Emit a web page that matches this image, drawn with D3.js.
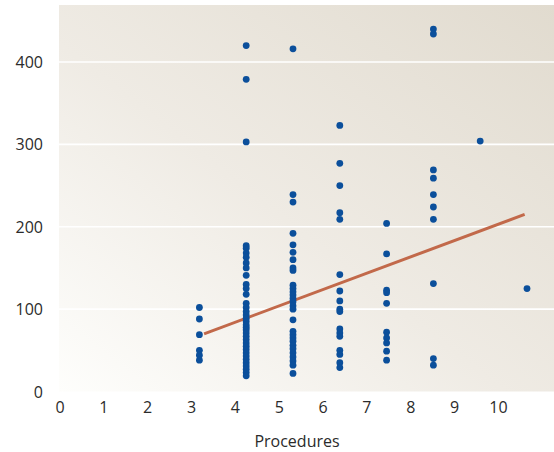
<!DOCTYPE html>
<html><head><meta charset="utf-8">
<script src="https://cdn.jsdelivr.net/npm/d3@7"></script>
<style>
html,body{margin:0;padding:0;background:#fff;}
svg{display:block;}
text{font-family:"Open Sans",sans-serif;fill:#2b2b2b;}
</style></head>
<body>
<script>
// Data: number of procedures vs value
const procedures = [3,4,5,6,7,8,9,10];
const values3 = [102,88,69,50,44,38];
const values4 = [420,379,303,177,174,168,163,156,150,141,130,125,118,107,102,97,93,89,85,81,78,75,71,67,63,59,55,51,47,43,39,35,31,27,23,19];
const values5 = [416,239,230,192,178,169,160,150,147,129,125,121,117,113,109,104,100,87,73,69,65,61,56,52,47,42,37,32,22];
const values6 = [323,277,250,217,209,142,122,110,100,97,76,71,67,50,45,35,29];
const values7 = [204,167,123,120,107,72,65,59,49,38];
const values8 = [440,434,269,259,239,224,209,131,40,32];
const values9 = [304];
const values10 = [125];
const fitX = [3.1, 9.95];
const fitY = [70, 215];
const xTicks = [0,1,2,3,4,5,6,7,8,9,10];
const yTicks = [0,100,200,300,400];
const xTitle = "Procedures";

const allValues = [values3,values4,values5,values6,values7,values8,values9,values10];
const points = [];
procedures.forEach((p,i)=>allValues[i].forEach(v=>points.push({x:p,y:v})));

const W=554,H=452;
const plot={left:59,right:554,top:5,bottom:391.5};
const x = d3.scaleLinear().domain([0,10]).range([59,527]);
const xLab = d3.scaleLinear().domain([0,10]).range([59.5,498]);
const y = d3.scaleLinear().domain([0,400]).range([391.5,62]);

const svg=d3.select("body").append("svg").attr("width",W).attr("height",H);
const defs=svg.append("defs");
const g=defs.append("linearGradient").attr("id","bg").attr("x1","0").attr("y1","1").attr("x2","1").attr("y2","0");
g.append("stop").attr("offset","0").attr("stop-color","#fefefc");
g.append("stop").attr("offset","0.45").attr("stop-color","#efebe4");
g.append("stop").attr("offset","1").attr("stop-color","#e1dbcf");

svg.append("rect").attr("x",plot.left).attr("y",plot.top)
  .attr("width",plot.right-plot.left).attr("height",plot.bottom-plot.top)
  .attr("fill","url(#bg)");

// gridlines
svg.append("g").selectAll("line").data(yTicks.filter(d=>d>0)).join("line")
  .attr("x1",plot.left).attr("x2",plot.right)
  .attr("y1",d=>y(d)).attr("y2",d=>y(d))
  .attr("stroke","#ffffff").attr("stroke-width",1.6);

// y axis labels
const yAxis=d3.axisLeft(y).tickValues(yTicks).tickSize(0).tickPadding(0);
const ya=svg.append("g").attr("transform","translate(43,0)").call(yAxis);
ya.select(".domain").remove();
ya.selectAll("text").attr("font-size","16px").attr("font-family","'Open Sans',sans-serif").attr("fill","#2b2b2b").attr("dy","0.35em");

// x axis labels
const xAxis=d3.axisBottom(xLab).tickValues(xTicks).tickSize(0).tickPadding(0);
const xa=svg.append("g").attr("transform","translate(0,401.5)").call(xAxis);
xa.select(".domain").remove();
xa.selectAll("text").attr("font-size","16px").attr("font-family","'Open Sans',sans-serif").attr("fill","#2b2b2b").attr("dy","0.71em");

svg.append("text").attr("x",297).attr("y",447).attr("text-anchor","middle")
  .attr("font-size","16px").text(xTitle);

// fit line
svg.append("line")
  .attr("x1",x(fitX[0])).attr("y1",y(fitY[0]))
  .attr("x2",x(fitX[1])).attr("y2",y(fitY[1]))
  .attr("stroke","#c2694a").attr("stroke-width",3);

// points
svg.append("g").selectAll("circle").data(points).join("circle")
  .attr("cx",d=>x(d.x)).attr("cy",d=>y(d.y)).attr("r",3.4)
  .attr("fill","#0b4f9b");
</script>
</body></html>
